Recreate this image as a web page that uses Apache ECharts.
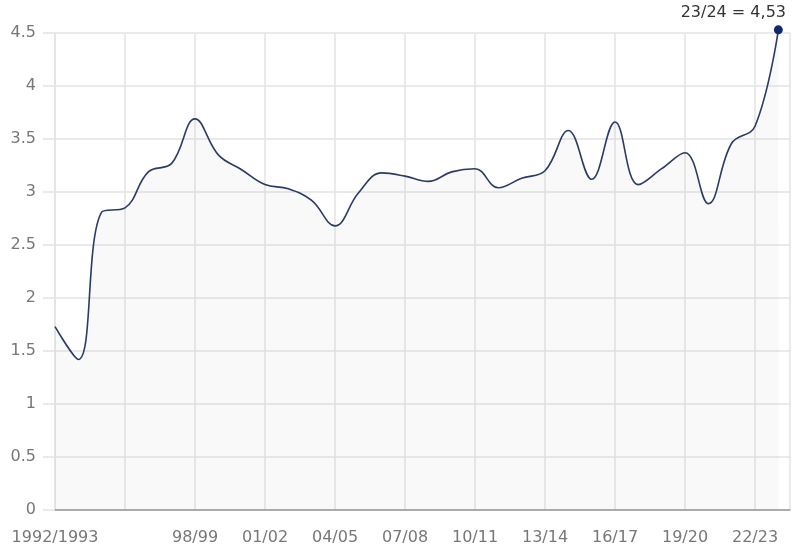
<!DOCTYPE html>
<html>
<head>
<meta charset="utf-8">
<script src="https://cdn.jsdelivr.net/npm/echarts@6/dist/echarts.min.js"></script>
<style>html,body{margin:0;padding:0;background:#fff}#c{width:800px;height:560px}</style>
</head>
<body>
<div id="c"></div>
<script>
const categories = ['1992/1993','93/94','94/95','95/96','96/97','97/98','98/99','99/00','00/01','01/02',
  '02/03','03/04','04/05','05/06','06/07','07/08','08/09','09/10','10/11','11/12',
  '12/13','13/14','14/15','15/16','16/17','17/18','18/19','19/20','20/21','21/22','22/23','23/24'];
const values = [1.73,1.42,2.81,2.85,3.19,3.27,3.69,3.35,3.21,3.07,
  3.03,2.92,2.68,2.99,3.18,3.15,3.10,3.19,3.22,3.04,
  3.13,3.20,3.58,3.12,3.66,3.07,3.22,3.37,2.89,3.46,3.62,4.53];
const hiddenTickLabels = ['95/96'];

const FONT = 'DejaVu Sans';
const last = values.length - 1;
const seriesData = values.map((v, i) => {
  if (i === last) {
    return {
      value: [i, v], symbol: 'circle', symbolSize: 9,
      label: {
        show: true, position: 'top', distance: 4, offset: [-45, 0],
        color: '#333', fontFamily: FONT, fontSize: 16,
        formatter: () => categories[i] + ' = ' + String(v).replace('.', ',')
      }
    };
  }
  return { value: [i, v], symbol: 'none' };
});

const chart = echarts.init(document.getElementById('c'), null, { renderer: 'canvas' });
chart.setOption({
  animation: false,
  grid: { left: 55, right: 10, top: 33, bottom: 50, containLabel: false },
  xAxis: {
    type: 'value', min: 0, max: 31.5, interval: 3,
    axisLine: { show: true, onZero: false, lineStyle: { color: '#999', width: 1.5 } },
    axisTick: { show: false },
    splitLine: { show: true, lineStyle: { color: '#e3e3e3', width: 1.5 } },
    axisLabel: {
      color: '#777', fontFamily: FONT, fontSize: 16, margin: 20,
      showMaxLabel: false,
      formatter: (val) => {
        const c = categories[Math.round(val)];
        if (c === undefined || hiddenTickLabels.includes(c)) return '';
        return c;
      }
    }
  },
  yAxis: {
    type: 'value', min: 0, max: 4.5, interval: 0.5,
    axisLine: { show: true, onZero: false, lineStyle: { color: '#e3e3e3', width: 1.5 } },
    axisTick: { show: true, inside: false, length: 12, lineStyle: { color: '#e3e3e3', width: 1.5 } },
    splitLine: { show: true, lineStyle: { color: '#e3e3e3', width: 1.5 } },
    axisLabel: { color: '#777', fontFamily: FONT, fontSize: 16, margin: 19 }
  },
  series: [{
    type: 'line',
    data: seriesData,
    smooth: 0.4,
    clip: false,
    showSymbol: true,
    lineStyle: { color: '#2b3a66', width: 1.6 },
    itemStyle: { color: '#0d2a6e' },
    areaStyle: { color: 'rgba(0,0,0,0.03)' },
    z: 3
  }]
});
</script>
</body>
</html>
